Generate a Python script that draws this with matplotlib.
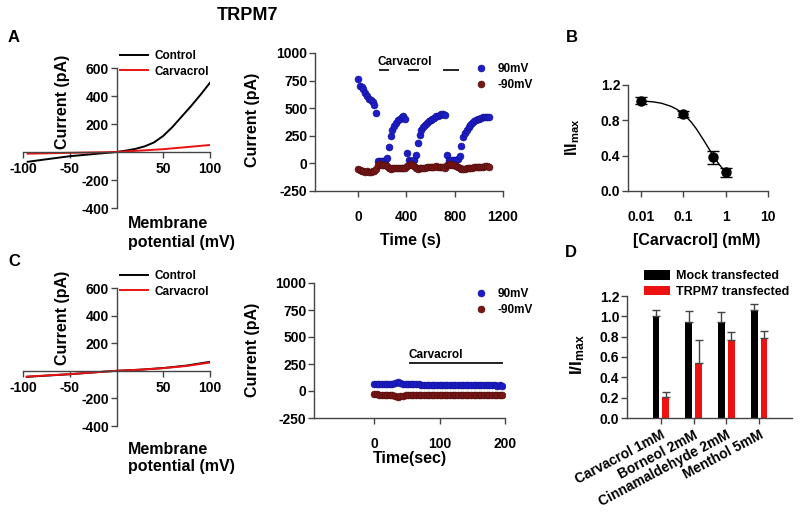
import matplotlib
matplotlib.use('Agg')
import matplotlib.pyplot as plt
from matplotlib.ticker import NullLocator

plt.rcParams['font.family'] = ['Liberation Sans', 'DejaVu Sans']
plt.rcParams['font.weight'] = 'bold'
plt.rcParams['axes.unicode_minus'] = False
plt.rcParams['mathtext.fontset'] = 'custom'
plt.rcParams['mathtext.rm'] = 'Liberation Sans:bold'
plt.rcParams['mathtext.bf'] = 'Liberation Sans:bold'
plt.rcParams['mathtext.default'] = 'rm'

# ---- data -------------------------------------------------------------
# A: I-V curves
iv_a_ctrl_v = [-95, -75, -50, -25, 0, 10, 20, 30, 40, 50, 60, 70, 80, 90, 100]
iv_a_ctrl_i = [-70, -52, -30, -15, 0, 10, 22, 40, 68, 115, 180, 255, 330, 410, 495]
iv_a_carv_v = [-95, -50, 0, 50, 100]
iv_a_carv_i = [-12, -6, 0, 20, 50]

# A: time course (s, pA)
tc_a_time = list(range(0, 1081, 15))
tc_a_90 = [764, 700, 690, 670, 640, 610, 585, 575, 560, 530, 460,
           25, 20, 22, 20, 25, 45, 150, 245, 300, 335, 370, 395, 405,
           420, 430, 405, 90, 30, 25, 20, 30, 75, 185, 255, 305, 330,
           350, 365, 385, 395, 405, 415, 425, 430, 440, 445, 448, 440,
           75, 30, 25, 28, 30, 35, 40, 65, 160, 235, 275, 305, 330, 350,
           365, 380, 390, 398, 405, 412, 418, 420, 422, 418]
tc_a_m90 = [-55, -62, -70, -72, -75, -72, -74, -75, -72, -65, -55,
            -10, -8, -10, -12, -15, -25, -45, -55, -45, -40, -42, -45, -40,
            -42, -45, -40, -20, -10, -8, -15, -25, -40, -50, -45, -42, -40,
            -38, -35, -35, -32, -30, -30, -28, -30, -30, -32, -35, -40,
            -15, -10, -8, -12, -15, -20, -30, -45, -55, -50, -48, -45, -42,
            -40, -38, -36, -35, -33, -32, -30, -30, -28, -28, -30]
carv_a_start = [170, 415, 700]
carv_a_end = [255, 505, 835]

# B: dose response
dose_conc = [0.01, 0.1, 0.5, 1]
dose_resp = [1.02, 0.87, 0.38, 0.21]
dose_err = [0.04, 0.03, 0.07, 0.05]
fit_conc = [0.01, 0.02, 0.03, 0.05, 0.07, 0.1, 0.15, 0.2, 0.3, 0.4, 0.5, 0.7, 1.0]
fit_resp = [1.021, 1.008, 0.994, 0.960, 0.925, 0.871, 0.785, 0.707, 0.577,
            0.479, 0.404, 0.301, 0.211]

# C: I-V curves (mock)
iv_c_ctrl_v = [-96, -75, -50, -25, 0, 25, 50, 75, 100]
iv_c_ctrl_i = [-44, -35, -25, -12, 0, 8, 20, 38, 65]
iv_c_carv_v = [-96, -75, -50, -25, 0, 25, 50, 75, 100]
iv_c_carv_i = [-42, -34, -24, -12, 0, 8, 19, 35, 60]

# C: time course (sec, pA)
tc_c_time = list(range(0, 200, 4))
tc_c_90 = [68, 66, 65, 64, 63, 62, 64, 66, 75, 82, 70, 66, 64, 63, 62, 62, 61,
           61, 60, 60, 59, 60, 60, 59, 58, 58, 57, 58, 57, 56, 57, 56, 55, 55,
           54, 55, 54, 53, 54, 53, 52, 53, 52, 52, 51, 52, 51, 50, 51, 50]
tc_c_m90 = [-30, -32, -33, -34, -35, -33, -34, -40, -50, -58, -48, -42, -40,
            -40, -41, -40, -39, -40, -40, -39, -38, -39, -38, -38, -37, -38,
            -37, -38, -37, -36, -37, -36, -36, -35, -36, -35, -36, -35, -36,
            -37, -36, -37, -38, -37, -38, -39, -38, -39, -40, -40]
carv_c_start = 53
carv_c_end = 197

# D: bar chart
compounds = ['Carvacrol 1mM', 'Borneol 2mM', 'Cinnamaldehyde 2mM', 'Menthol 5mM']
mock_mean = [1.00, 0.94, 0.94, 1.065]
mock_err = [0.06, 0.11, 0.10, 0.06]
trpm7_mean = [0.205, 0.54, 0.77, 0.79]
trpm7_err = [0.05, 0.23, 0.08, 0.07]

# ---- layout -----------------------------------------------------------
W, H = 800, 521
fig = plt.figure(figsize=(W / 100, H / 100), dpi=100)

BLUE = '#1c1cc8'
MAROON = '#7a1616'
RED = '#ee1111'
AX = '#444444'
TICK_FS = 10
LABEL_FS = 11.5
SMALL_FS = 8.5


def px_axes(left, top, right, bottom):
    return fig.add_axes([left / W, 1 - bottom / H, (right - left) / W, (bottom - top) / H])


def fig_text(x, y, s, **kw):
    return fig.text(x / W, 1 - y / H, s, **kw)


def base_style(ax, xpad=2, ypad=1.5):
    for s in ['top', 'right']:
        ax.spines[s].set_visible(False)
    for s in ['left', 'bottom']:
        ax.spines[s].set_color(AX)
        ax.spines[s].set_linewidth(1.0)
    ax.tick_params(axis='both', colors=AX, labelcolor='black', labelsize=TICK_FS,
                   length=4, width=1.0, direction='out')
    ax.tick_params(axis='x', pad=xpad)
    ax.tick_params(axis='y', pad=ypad)
    ax.patch.set_alpha(0)


def iv_panel(ax, cv, ci, rv, ri):
    ax.plot(cv, ci, color='black', lw=1.4, label='Control')
    ax.plot(rv, ri, color=RED, lw=1.4, label='Carvacrol')
    ax.set_xlim(-100, 100)
    ax.set_ylim(-400, 600)
    base_style(ax, xpad=3)
    ax.spines['left'].set_position(('data', 0))
    ax.spines['bottom'].set_position(('data', 0))
    ax.set_xticks([-100, -50, 50, 100])
    ax.set_yticks([-400, -200, 200, 400, 600])


def time_panel(ax, t, i90, im90, xlim, xticks):
    ax.plot(t, i90, 'o', color=BLUE, ms=5, mew=0.4, mec='#10108a', label='90mV')
    ax.plot(t, im90, 'o', color=MAROON, ms=5, mew=0.4, mec='#4a0a0a', label='-90mV')
    ax.set_xlim(*xlim)
    ax.set_ylim(-250, 1000)
    ax.set_xticks(xticks)
    ax.set_yticks([-250, 0, 250, 500, 750, 1000])
    base_style(ax, xpad=10)


def time_legend(ax, y_top):
    ax.legend(loc='upper left', bbox_to_anchor=(476 / W, 1 - y_top / H),
              bbox_transform=fig.transFigure, frameon=False, fontsize=SMALL_FS,
              handlelength=0.8, handletextpad=1.0, labelspacing=0.35,
              borderpad=0, borderaxespad=0, markerscale=1.0)


def iv_legend(ax, y_top):
    ax.legend(loc='upper left', bbox_to_anchor=(120 / W, 1 - y_top / H),
              bbox_transform=fig.transFigure, frameon=False, fontsize=SMALL_FS,
              handlelength=2.4, handletextpad=0.5, labelspacing=0.3,
              borderpad=0, borderaxespad=0)


# A: I-V
ax = px_axes(23, 68, 210, 208)
iv_panel(ax, iv_a_ctrl_v, iv_a_ctrl_i, iv_a_carv_v, iv_a_carv_i)
iv_legend(ax, 50)

# A: time course
ax = px_axes(315, 53, 503, 191)
time_panel(ax, tc_a_time, tc_a_90, tc_a_m90, (-356, 1200), [0, 400, 800, 1200])
ax.hlines([846] * len(carv_a_start), carv_a_start, carv_a_end, color='black', lw=1.2)
ax.text(165, 915, 'Carvacrol', fontsize=SMALL_FS, ha='left', va='center')
time_legend(ax, 63)

# B: dose response
ax = px_axes(628, 85, 768, 191)
ax.set_xscale('log')
ax.plot(fit_conc, fit_resp, color='black', lw=1.0)
ax.errorbar(dose_conc, dose_resp, yerr=dose_err, fmt='o', color='black', ms=6.5,
            ecolor='black', elinewidth=1.0, capsize=4, capthick=1.0)
ax.set_xlim(0.0049, 10)
ax.set_ylim(0, 1.2)
base_style(ax, xpad=10)
ax.set_xticks([0.01, 0.1, 1, 10])
ax.set_xticklabels(['0.01', '0.1', '1', '10'])
ax.xaxis.set_minor_locator(NullLocator())
ax.set_yticks([0.0, 0.4, 0.8, 1.2])
ax.set_yticklabels(['0.0', '0.4', '0.8', '1.2'])

# C: I-V
ax = px_axes(23, 288, 210, 426)
iv_panel(ax, iv_c_ctrl_v, iv_c_ctrl_i, iv_c_carv_v, iv_c_carv_i)
iv_legend(ax, 270)

# C: time course
ax = px_axes(314, 283, 505, 418)
time_panel(ax, tc_c_time, tc_c_90, tc_c_m90, (-92, 200), [0, 100, 200])
ax.hlines(259, carv_c_start, carv_c_end, color='black', lw=1.2)
ax.text(carv_c_start, 330, 'Carvacrol', fontsize=SMALL_FS, ha='left', va='center')
time_legend(ax, 288)

# D: bar chart
ax = px_axes(627, 296, 792, 418)
pos = list(range(len(compounds)))
ax.bar([p - 0.15 for p in pos], mock_mean, width=0.2, color='black',
       label='Mock transfected',
       yerr=[[0] * 4, mock_err], error_kw=dict(ecolor=AX, elinewidth=1.0, capsize=3.2, capthick=1.0))
ax.bar([p + 0.15 for p in pos], trpm7_mean, width=0.2, color=RED,
       label='TRPM7 transfected',
       yerr=[[0] * 4, trpm7_err], error_kw=dict(ecolor=AX, elinewidth=1.0, capsize=3.2, capthick=1.0))
ax.set_xlim(-1.03, 4.0)
ax.set_ylim(0, 1.2)
base_style(ax, xpad=3)
ax.set_xticks(pos)
ax.set_xticklabels(compounds, rotation=28, ha='right', va='top', rotation_mode='anchor',
                   fontsize=10)
ax.set_yticks([0.0, 0.2, 0.4, 0.6, 0.8, 1.0, 1.2])
ax.set_yticklabels(['0.0', '0.2', '0.4', '0.6', '0.8', '1.0', '1.2'])
ax.legend(loc='upper left', bbox_to_anchor=(644 / W, 1 - 270 / H),
          bbox_transform=fig.transFigure, frameon=False, fontsize=9,
          handlelength=2.1, handleheight=0.8, handletextpad=0.5, labelspacing=0.3,
          borderpad=0, borderaxespad=0)

# ---- texts ------------------------------------------------------------
fig_text(247, 15, 'TRPM7', fontsize=13, ha='center', va='center')
for letter, x, y in [('A', 14, 37), ('B', 572, 37), ('C', 14, 262), ('D', 571, 253)]:
    fig_text(x, y, letter, fontsize=12, ha='center', va='center')

# axis labels
for y in [102, 318]:
    fig_text(63, y, 'Current (pA)', fontsize=LABEL_FS, rotation=90, ha='center', va='center')
for y in [233, 458]:
    fig_text(128, y, 'Membrane\npotential (mV)', fontsize=LABEL_FS, ha='left',
             va='center', linespacing=1.25)
fig_text(252, 120, 'Current (pA)', fontsize=LABEL_FS, rotation=90, ha='center', va='center')
fig_text(252, 350, 'Current (pA)', fontsize=LABEL_FS, rotation=90, ha='center', va='center')
fig_text(410, 240, 'Time (s)', fontsize=LABEL_FS, ha='center', va='center')
fig_text(410, 459, 'Time(sec)', fontsize=LABEL_FS, ha='center', va='center')
fig_text(697, 240, '[Carvacrol] (mM)', fontsize=LABEL_FS, ha='center', va='center')
fig_text(573, 137, r'I\I$_{\mathrm{max}}$', fontsize=LABEL_FS, rotation=90, ha='center', va='center')
fig_text(578, 355, r'I/I$_{\mathrm{max}}$', fontsize=LABEL_FS + 1, rotation=90, ha='center', va='center')

fig.savefig('out.png', dpi=100)
